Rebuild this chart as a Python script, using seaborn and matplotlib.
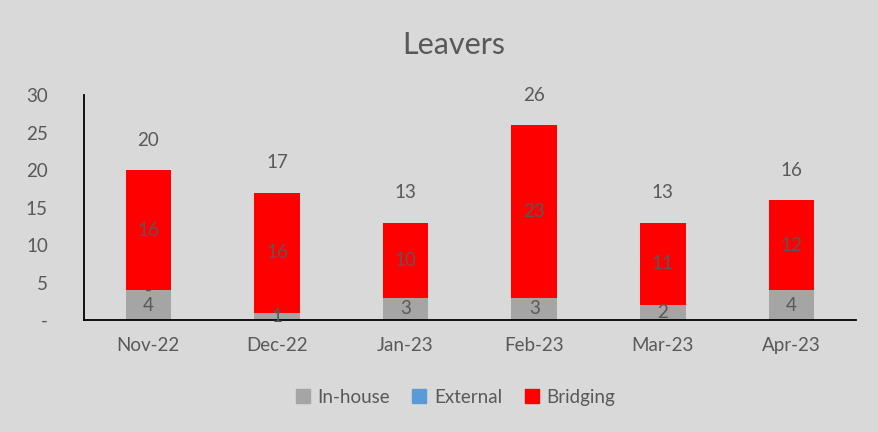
import matplotlib
matplotlib.use("Agg")
import matplotlib.pyplot as plt
import matplotlib.ticker as mticker
from matplotlib.patches import Patch
import numpy as np
import seaborn as sns

months = ["Nov-22", "Dec-22", "Jan-23", "Feb-23", "Mar-23", "Apr-23"]
in_house = [4, 1, 3, 3, 2, 4]
external = [0, 0, 0, 0, 0, 0]
bridging = [16, 16, 10, 23, 11, 12]
external_labels = ["-", "-", "", "", "", ""]

BG = "#d9d9d9"
TXT = "#595959"
colors = {"In-house": "#a5a5a5", "External": "#5b9bd5", "Bridging": "#ff0000"}

sns.set_theme(style="white")
plt.rcParams["font.family"] = ["Lato", "DejaVu Sans"]

fig = plt.figure(figsize=(8.79, 4.32), dpi=100, facecolor=BG)
ax = fig.add_axes([0.0956, 0.259, 0.878, 0.521])
ax.set_facecolor(BG)

ih = np.array(in_house)
ex = np.array(external)
br = np.array(bridging)
total = ih + ex + br

w = 0.355
sns.barplot(x=months, y=in_house, color=colors["In-house"], width=w, ax=ax,
            saturation=1, linewidth=0)
sns.barplot(x=months, y=external, bottom=ih, color=colors["External"], width=w,
            ax=ax, saturation=1, linewidth=0)
sns.barplot(x=months, y=bridging, bottom=ih + ex, color=colors["Bridging"], width=w,
            ax=ax, saturation=1, linewidth=0)

fs = 13.5
for i in range(len(months)):
    ax.text(i, ih[i] / 2, str(ih[i]), ha="center", va="center", color=TXT, fontsize=fs)
    if external_labels[i]:
        ax.text(i, ih[i] + ex[i] / 2, external_labels[i], ha="center", va="center",
                color=TXT, fontsize=fs)
    ax.text(i, ih[i] + ex[i] + br[i] / 2, str(br[i]), ha="center", va="center",
            color=TXT, fontsize=fs)
    ax.text(i, total[i] + 4, str(total[i]), ha="center", va="center", color=TXT, fontsize=fs)

ax.set_xlim(-0.5, len(months) - 0.5)
ax.set_ylim(0, 30)
ax.yaxis.set_major_locator(mticker.MultipleLocator(5))
ax.yaxis.set_major_formatter(mticker.FuncFormatter(lambda v, p: "-" if v == 0 else f"{v:.0f}"))
ax.tick_params(axis="y", length=0, pad=26, labelsize=fs, labelcolor=TXT)
ax.tick_params(axis="x", which="major", length=0, pad=12, labelsize=fs, labelcolor=TXT)
ax.set_xticks(np.arange(-0.5, len(months) - 0.4, 1), minor=True)
ax.tick_params(axis="x", which="minor", length=5, width=1.2, color="black", direction="out")

for s in ["top", "right"]:
    ax.spines[s].set_visible(False)
for s in ["left", "bottom"]:
    ax.spines[s].set_color("black")
    ax.spines[s].set_linewidth(1.3)
ax.set_xlabel("")
ax.set_ylabel("")

fig.text(0.516, 0.895, "Leavers", ha="center", va="center", fontsize=22, color=TXT)

handles = [Patch(color=colors[k]) for k in ["In-house", "External", "Bridging"]]
fig.legend(handles, ["In-house", "External", "Bridging"], loc="center",
           bbox_to_anchor=(0.518, 0.081), ncol=3, frameon=False, fontsize=fs,
           labelcolor=TXT, handlelength=0.75, handleheight=0.75, handletextpad=0.4,
           columnspacing=1.2)

fig.savefig("out.png", dpi=100, facecolor=BG)
